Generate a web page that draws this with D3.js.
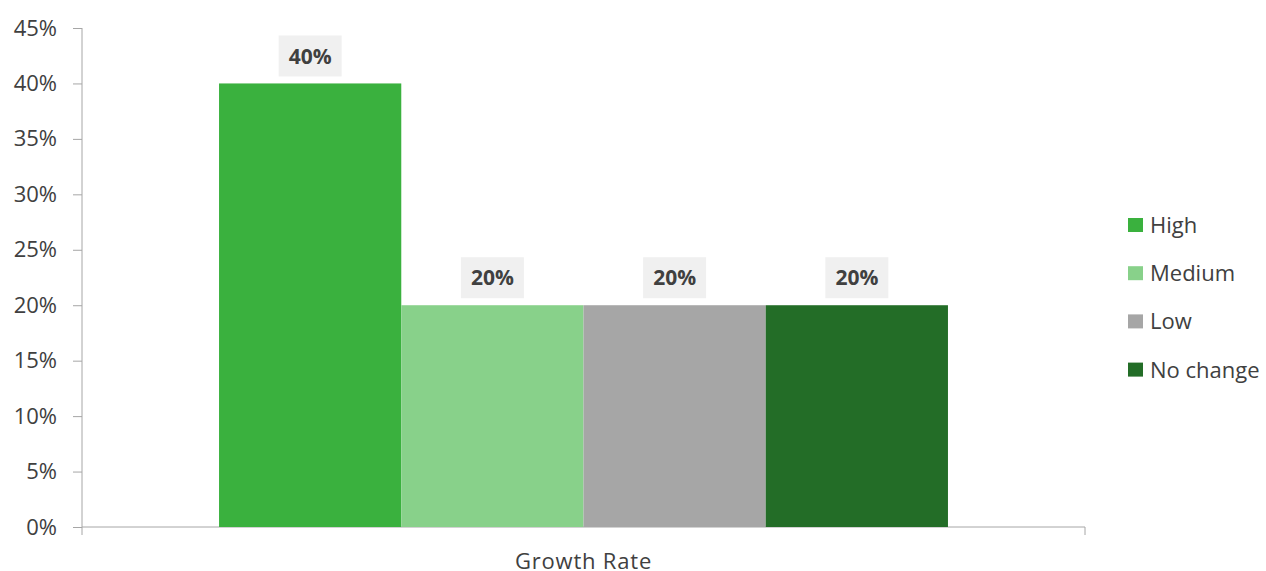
<!DOCTYPE html>
<html>
<head>
<meta charset="utf-8">
<script src="https://cdn.jsdelivr.net/npm/d3@7"></script>
<style>
  html, body { margin: 0; padding: 0; background: #fff; }
  svg { display: block; font-family: "Open Sans", "Noto Sans", sans-serif; }
</style>
</head>
<body>
<svg id="chart" width="1266" height="571"></svg>
<script>
// Growth rate distribution data
const categories = ["Growth Rate"];
const seriesNames = ["High", "Medium", "Low", "No change"];
const seriesValues = [0.40, 0.20, 0.20, 0.20];
const seriesColors = ["#3AB13E", "#88D18A", "#A6A6A6", "#236D27"];
const yTicks = [0, 0.05, 0.10, 0.15, 0.20, 0.25, 0.30, 0.35, 0.40, 0.45];

const svg = d3.select("#chart");
const plot = { left: 82, right: 1085, top: 28, bottom: 527 };
const font = '"Open Sans", "Noto Sans", sans-serif';

const x0 = d3.scaleBand()
  .domain(categories)
  .range([plot.left, plot.right])
  .paddingInner(0)
  .paddingOuter(0.188);

const x1 = d3.scaleBand()
  .domain(seriesNames)
  .range([0, x0.bandwidth()])
  .padding(0);

const y = d3.scaleLinear()
  .domain([0, 0.45])
  .range([plot.bottom, plot.top]);

const fmt = d3.format(".0%");
const axisColor = "#A6A6A6";
const textColor = "#404040";

// Y axis
const yAxis = svg.append("g")
  .attr("transform", `translate(${plot.left},0)`)
  .call(d3.axisLeft(y).tickValues(yTicks).tickFormat(fmt).tickSize(9).tickPadding(16));
yAxis.attr("font-family", font);
yAxis.select(".domain").attr("stroke", axisColor).attr("d", `M0,${plot.top}V${plot.bottom + 8}`);
yAxis.selectAll(".tick line").attr("stroke", axisColor);
yAxis.selectAll(".tick text")
  .attr("fill", textColor)
  .style("font-family", font)
  .style("font-size", "22px");

// X axis
const xAxis = svg.append("g")
  .attr("transform", `translate(0,${plot.bottom})`)
  .call(d3.axisBottom(x0).tickSize(0));
xAxis.attr("font-family", font);
xAxis.select(".domain").attr("stroke", axisColor)
  .attr("d", `M${plot.left},0H${plot.right}V8`);
xAxis.selectAll(".tick text")
  .attr("fill", textColor)
  .attr("y", 41.5)
  .attr("dy", 0)
  .style("font-family", font)
  .style("font-size", "22px")
  .style("letter-spacing", "0.8px");

// Bars
const group = svg.append("g").selectAll("g")
  .data(categories)
  .join("g")
  .attr("transform", d => `translate(${x0(d)},0)`);

const barData = seriesNames.map((name, i) => ({ name, value: seriesValues[i], color: seriesColors[i] }));

group.selectAll("rect.bar")
  .data(barData)
  .join("rect")
  .attr("class", "bar")
  .attr("x", d => x1(d.name))
  .attr("width", x1.bandwidth())
  .attr("y", d => y(d.value))
  .attr("height", d => y(0) - y(d.value))
  .attr("fill", d => d.color);

// Value labels in shaded boxes
const labels = group.selectAll("g.label")
  .data(barData)
  .join("g")
  .attr("class", "label")
  .attr("transform", d => `translate(${x1(d.name) + x1.bandwidth() / 2},${y(d.value) - 27.5})`);

labels.append("rect")
  .attr("x", -31.5)
  .attr("y", -20.5)
  .attr("width", 63)
  .attr("height", 41)
  .attr("fill", "#F0F0F0");

labels.append("text")
  .attr("text-anchor", "middle")
  .attr("dy", "0.36em")
  .attr("fill", textColor)
  .style("font-size", "21px")
  .style("font-weight", "bold")
  .text(d => fmt(d.value));

// Legend
const legend = svg.append("g")
  .attr("transform", "translate(1128,225)");

const items = legend.selectAll("g")
  .data(barData)
  .join("g")
  .attr("transform", (d, i) => `translate(0,${i * 48.2})`);

items.append("rect")
  .attr("x", 0)
  .attr("y", -7)
  .attr("width", 15)
  .attr("height", 14)
  .attr("fill", d => d.color);

items.append("text")
  .attr("x", 22)
  .attr("y", 0)
  .attr("dy", "0.36em")
  .attr("fill", textColor)
  .style("font-size", "22px")
  .text(d => d.name);
</script>
</body>
</html>
